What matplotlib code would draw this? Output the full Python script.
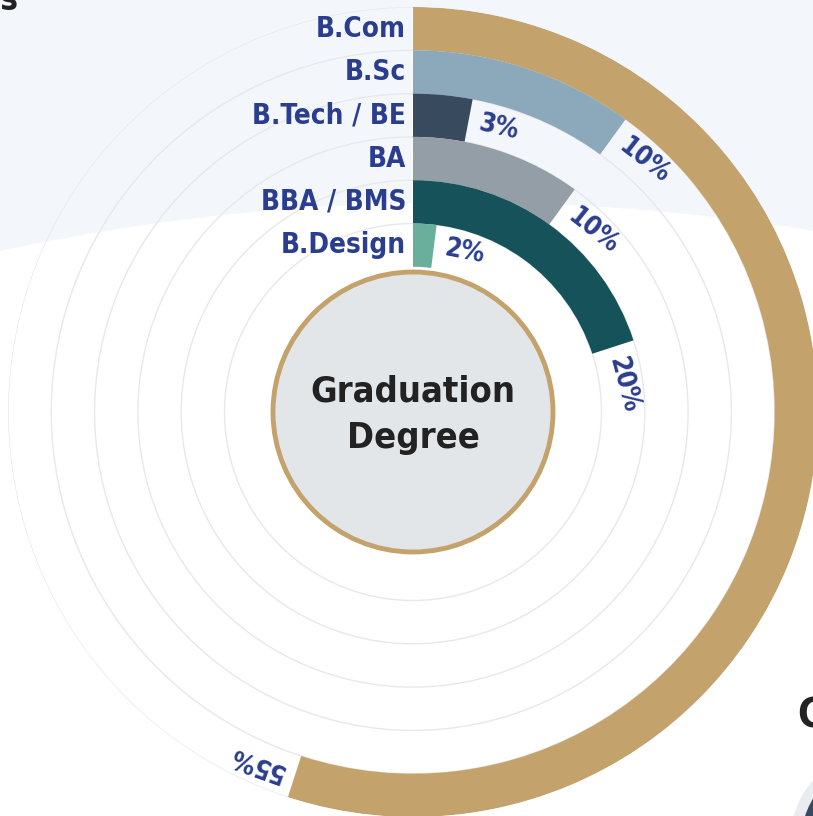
import numpy as np
import matplotlib
matplotlib.use("Agg")
import matplotlib.pyplot as plt
from matplotlib import font_manager
from matplotlib.patches import Circle

# data
categories = ["B.Com", "B.Sc", "B.Tech / BE", "BA", "BBA / BMS", "B.Design"]
shares = [55, 10, 3, 10, 20, 2]
pct_labels = ["55%", "10%", "3%", "10%", "20%", "2%"]
colors = ["#c4a26b", "#8ba9bb", "#374a5e", "#949ea6", "#155259", "#6aae9c"]

fonts = font_manager.fontManager.ttflist
has_cond = any(f.name == "DejaVu Sans" and f.stretch == "condensed" and f.weight == 700 for f in fonts)
STRETCH = "condensed" if has_cond else "normal"
FONT = "DejaVu Sans"
BLUE = "#2a3d8f"

W, H = 813, 816
cx, cy = 413, 412
r_out, ring_w, r_core = 405, 43.3, 140

fig = plt.figure(figsize=(W / 100, H / 100), dpi=100)

# background in pixel coordinates
bg = fig.add_axes([0, 0, 1, 1])
bg.set_xlim(0, W)
bg.set_ylim(H, 0)
bg.axis("off")
bg.add_patch(plt.Rectangle((0, 0), W, H, color="#f3f7fb", zorder=0))
bg.add_patch(Circle((460, 2403), 2200, color="white", zorder=1))
bg.add_patch(Circle((880, 840), 89, color="#e9edf2", zorder=1))
bg.add_patch(Circle((880, 840), 78, color="#3a4a5e", zorder=1))
bg.text(18, 10, "ls", ha="right", va="baseline", fontsize=24, fontweight="bold",
        family=FONT, fontstretch=STRETCH, color="#222222")
bg.text(797, 727, "G", ha="left", va="baseline", fontsize=29, fontweight="bold",
        family=FONT, fontstretch=STRETCH, color="#222222")

# radial bars
ax = fig.add_axes([(cx - r_out) / W, (H - cy - r_out) / H, 2 * r_out / W, 2 * r_out / H],
                  projection="polar")
ax.set_facecolor("none")
ax.set_theta_zero_location("N")
ax.set_theta_direction(-1)
ax.set_ylim(0, r_out)
ax.spines["polar"].set_visible(False)

bottoms = [r_out - ring_w * (i + 1) for i in range(len(categories))]
bounds = [r_out - ring_w * i for i in range(len(categories))]
ax.set_yticks(bounds)
ax.set_yticklabels([])
ax.set_xticks([0])
ax.set_xticklabels([])
ax.yaxis.grid(True, color="#e8e8e8", lw=1)
ax.xaxis.grid(True, color="white", lw=1.5)
ax.set_axisbelow(True)

thetas = [s / 100 * 2 * np.pi for s in shares]
ax.bar(0, ring_w, width=thetas, bottom=bottoms, color=colors, align="edge", zorder=3)

for cat, th, b, lab in zip(categories, thetas, bottoms, pct_labels):
    rm = b + ring_w / 2
    ax.annotate(cat, (0, rm), xytext=(-5, 0), textcoords="offset points",
                ha="right", va="center", fontsize=20, fontweight="bold",
                family=FONT, fontstretch=STRETCH, color=BLUE, zorder=5)
    tl = th + 11 / rm
    ax.text(tl, rm, lab, rotation=-np.degrees(tl), rotation_mode="anchor",
            ha="left", va="center", fontsize=19, fontweight="bold",
            family=FONT, fontstretch=STRETCH, color=BLUE, zorder=5)

# centre disc
bg2 = fig.add_axes([0, 0, 1, 1])
bg2.set_xlim(0, W)
bg2.set_ylim(H, 0)
bg2.axis("off")
bg2.patch.set_alpha(0)
bg2.add_patch(Circle((cx, cy), r_core, facecolor="#e3e6e9", edgecolor="#c4a26b", lw=3.5))
bg2.text(cx, 392, "Graduation", ha="center", va="center", fontsize=26, fontweight="bold",
         family=FONT, fontstretch=STRETCH, color="#222222")
bg2.text(cx, 438, "Degree", ha="center", va="center", fontsize=26, fontweight="bold",
         family=FONT, fontstretch=STRETCH, color="#222222")

fig.savefig("out.png", dpi=100)
